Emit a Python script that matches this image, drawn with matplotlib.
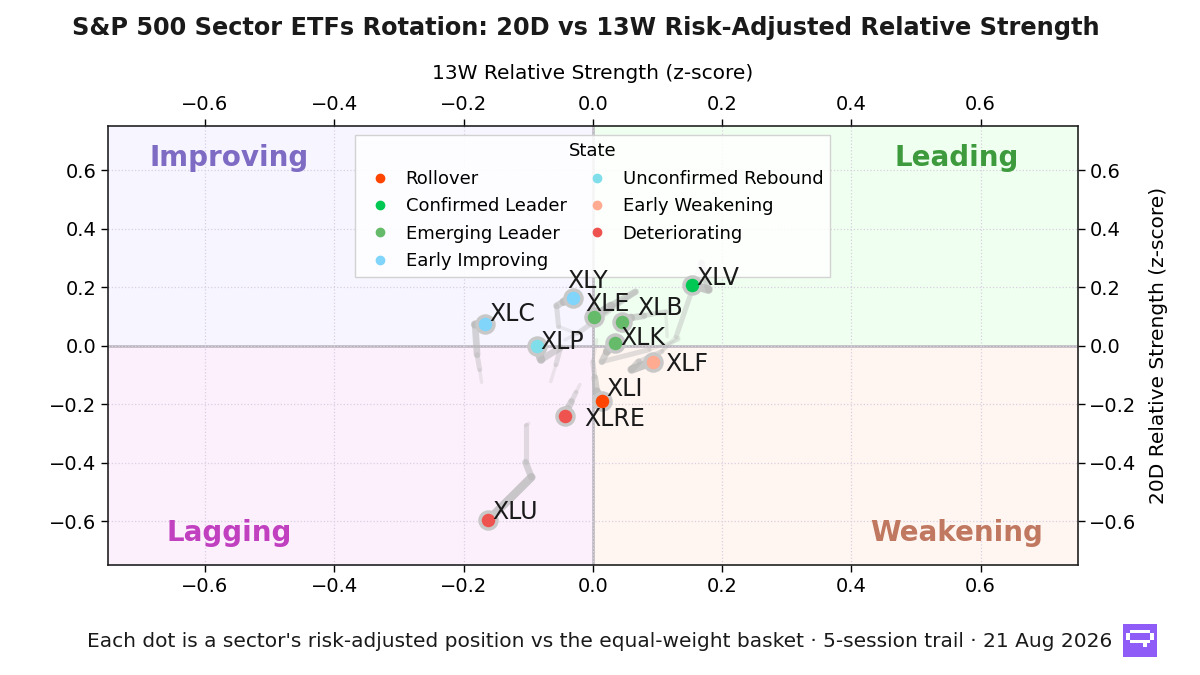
import numpy as np
import matplotlib
matplotlib.use("Agg")
import matplotlib.pyplot as plt
from matplotlib.collections import LineCollection
from matplotlib.lines import Line2D

# ---- data (13W z-score on x, 20D z-score on y), trails oldest -> current ----
tickers = ["XLV", "XLY", "XLE", "XLB", "XLK", "XLC", "XLP", "XLF", "XLI", "XLRE", "XLU"]
states = ["Confirmed Leader", "Early Improving", "Emerging Leader", "Emerging Leader",
          "Emerging Leader", "Early Improving", "Unconfirmed Rebound", "Early Weakening",
          "Rollover", "Deteriorating", "Deteriorating"]

trail_x = {
    "XLV": [0.090, 0.129, 0.168, 0.179, 0.153],
    "XLY": [-0.024, -0.053, -0.056, -0.045, -0.031],
    "XLE": [-0.043, -0.022, 0.066, 0.028, 0.002],
    "XLB": [0.115, 0.113, 0.079, 0.059, 0.045],
    "XLK": [0.133, 0.087, 0.014, 0.022, 0.034],
    "XLC": [-0.172, -0.175, -0.179, -0.182, -0.167],
    "XLP": [-0.065, -0.057, -0.050, -0.080, -0.087],
    "XLF": [0.133, 0.107, 0.071, 0.060, 0.093],
    "XLI": [0.006, 0.000, 0.003, 0.006, 0.014],
    "XLRE": [-0.020, -0.026, -0.033, -0.039, -0.043],
    "XLU": [-0.099, -0.104, -0.104, -0.095, -0.162],
}
trail_y = {
    "XLV": [-0.055, 0.031, 0.283, 0.191, 0.208],
    "XLY": [0.041, 0.065, 0.136, 0.150, 0.164],
    "XLE": [0.020, 0.044, 0.184, 0.136, 0.099],
    "XLB": [0.031, 0.116, 0.102, 0.095, 0.082],
    "XLK": [0.020, -0.014, -0.055, -0.020, 0.010],
    "XLC": [-0.126, -0.082, -0.031, 0.072, 0.075],
    "XLP": [-0.123, -0.065, -0.007, -0.048, -0.003],
    "XLF": [0.027, -0.020, -0.055, -0.082, -0.055],
    "XLI": [0.020, -0.055, -0.109, -0.157, -0.188],
    "XLRE": [-0.133, -0.160, -0.191, -0.218, -0.242],
    "XLU": [-0.266, -0.273, -0.399, -0.450, -0.597],
}

state_order = ["Rollover", "Confirmed Leader", "Emerging Leader", "Early Improving",
               "Unconfirmed Rebound", "Early Weakening", "Deteriorating"]
state_colors = ["#ff4500", "#00c853", "#66bb6a", "#81d4fa", "#80deea", "#ffab91", "#ef5350"]

quad_names = ["Improving", "Leading", "Lagging", "Weakening"]
quad_colors = ["#7e6bc4", "#3d9b3d", "#c040c0", "#c07860"]
quad_bg = ["#f7f5ff", "#effff0", "#fdf0fd", "#fff6f1"]

title = "S&P 500 Sector ETFs Rotation: 20D vs 13W Risk-Adjusted Relative Strength"
footer = ("Each dot is a sector's risk-adjusted position vs the equal-weight basket "
          "\u00b7 5-session trail \u00b7 21 Aug 2026")

# label nudges (points) so tickers don't collide
label_offset = {
    "XLV": (3, 0), "XLY": (-4, 7), "XLE": (-6, 4), "XLB": (11, 5), "XLK": (4, -1.5),
    "XLC": (3, 2), "XLP": (3, -2), "XLF": (9, -7), "XLI": (3, 3), "XLRE": (14, -7),
    "XLU": (3, 1),
}

lim = 0.75
color_of = dict(zip(state_order, state_colors))

fig = plt.figure(figsize=(12, 6.75), dpi=100)
ax = fig.add_axes([0.09, 0.163, 0.808, 0.65])
ax.set_xlim(-lim, lim)
ax.set_ylim(-lim, lim)

# quadrant shading
ax.fill_between([-lim, 0], 0, lim, color=quad_bg[0], zorder=0)
ax.fill_between([0, lim], 0, lim, color=quad_bg[1], zorder=0)
ax.fill_between([-lim, 0], -lim, 0, color=quad_bg[2], zorder=0)
ax.fill_between([0, lim], -lim, 0, color=quad_bg[3], zorder=0)

ax.grid(True, linestyle=":", color="#d8d0e0", linewidth=0.9, zorder=1)
ax.axhline(0, color="#b8b4bc", linewidth=1.8, zorder=1)
ax.axvline(0, color="#b8b4bc", linewidth=1.8, zorder=1)

qx = 0.5625
qy = 0.64
for (x, y), name, c in zip([(-qx, qy), (qx, qy), (-qx, -qy), (qx, -qy)], quad_names, quad_colors):
    ax.text(x, y, name, color=c, fontsize=20, fontweight="bold",
            ha="center", va="center", zorder=2)

# trails
for t in tickers:
    xs = np.array(trail_x[t])
    ys = np.array(trail_y[t])
    pts = np.column_stack([xs, ys])
    segs = np.stack([pts[:-1], pts[1:]], axis=1)
    n = len(segs)
    widths = np.linspace(2.5, 6.0, n)
    alphas = np.linspace(0.25, 0.75, n)
    cols = [(0.72, 0.72, 0.72, a) for a in alphas]
    lc = LineCollection(segs, linewidths=widths, colors=cols, capstyle="round", zorder=3)
    ax.add_collection(lc)

# current dots and labels
for t, s in zip(tickers, states):
    x = trail_x[t][-1]
    y = trail_y[t][-1]
    ax.scatter(x, y, s=150, color=color_of[s], edgecolor="#c8c8c8", linewidth=2.5, zorder=8)
    ax.annotate(t, (x, y), xytext=label_offset[t], textcoords="offset points",
                fontsize=17, color="#1a1a1a", ha="left", va="baseline", zorder=9)

# axes styling: ticks on all sides
ticks = [-0.6, -0.4, -0.2, 0.0, 0.2, 0.4, 0.6]
ax.set_xticks(ticks)
ax.set_yticks(ticks)
ax.tick_params(axis="both", which="both", direction="out", length=5, width=1,
               labelsize=14, top=True, right=True, labeltop=True, labelright=True)
for sp in ax.spines.values():
    sp.set_color("#222222")
    sp.set_linewidth(1.2)

ax.xaxis.set_label_position("top")
ax.set_xlabel("13W Relative Strength (z-score)", fontsize=14.5, labelpad=12)
ax.yaxis.set_label_position("right")
ax.set_ylabel("20D Relative Strength (z-score)", fontsize=14.5, labelpad=9)

handles = [Line2D([0], [0], marker="o", linestyle="", markersize=6,
                  markerfacecolor=c, markeredgecolor=c) for c in state_colors]
leg = ax.legend(handles, state_order, title="State", loc="upper center", ncol=2,
                fontsize=13, title_fontsize=13, frameon=True, framealpha=0.85,
                edgecolor="#cccccc", fancybox=False, borderaxespad=0.5,
                columnspacing=0.7, handletextpad=0.4, labelspacing=0.52)
leg.set_zorder(6)

fig.text(0.488, 0.958, title, fontsize=17.3, fontweight="bold", ha="center", va="center",
         color="#1a1a1a")
fig.text(0.5, 0.049, footer, fontsize=14.5, ha="center", va="center", color="#1a1a1a")

# small pixel logo
lax = fig.add_axes([1123 / 1200, 1 - 657 / 675, 34 / 1200, 33 / 675])
icon = np.array([
    [0, 0, 0, 0, 0, 0, 0, 0, 0, 0],
    [0, 0, 0, 0, 0, 0, 0, 0, 0, 0],
    [0, 0, 1, 1, 1, 1, 1, 1, 0, 0],
    [0, 1, 0, 0, 0, 0, 0, 0, 1, 0],
    [0, 1, 0, 0, 0, 0, 0, 0, 1, 0],
    [0, 0, 1, 1, 1, 1, 1, 1, 0, 0],
    [0, 0, 0, 0, 0, 0, 1, 0, 0, 0],
    [0, 0, 0, 0, 0, 0, 0, 0, 0, 0],
    [0, 0, 0, 0, 0, 0, 0, 0, 0, 0],
    [0, 0, 0, 0, 0, 0, 0, 0, 0, 0],
])
rgb = np.zeros(icon.shape + (3,))
rgb[:] = matplotlib.colors.to_rgb("#8f5cf7")
rgb[icon == 1] = (1, 1, 1)
lax.imshow(rgb, interpolation="nearest", aspect="auto")
lax.axis("off")

fig.savefig("out.png", dpi=100)
